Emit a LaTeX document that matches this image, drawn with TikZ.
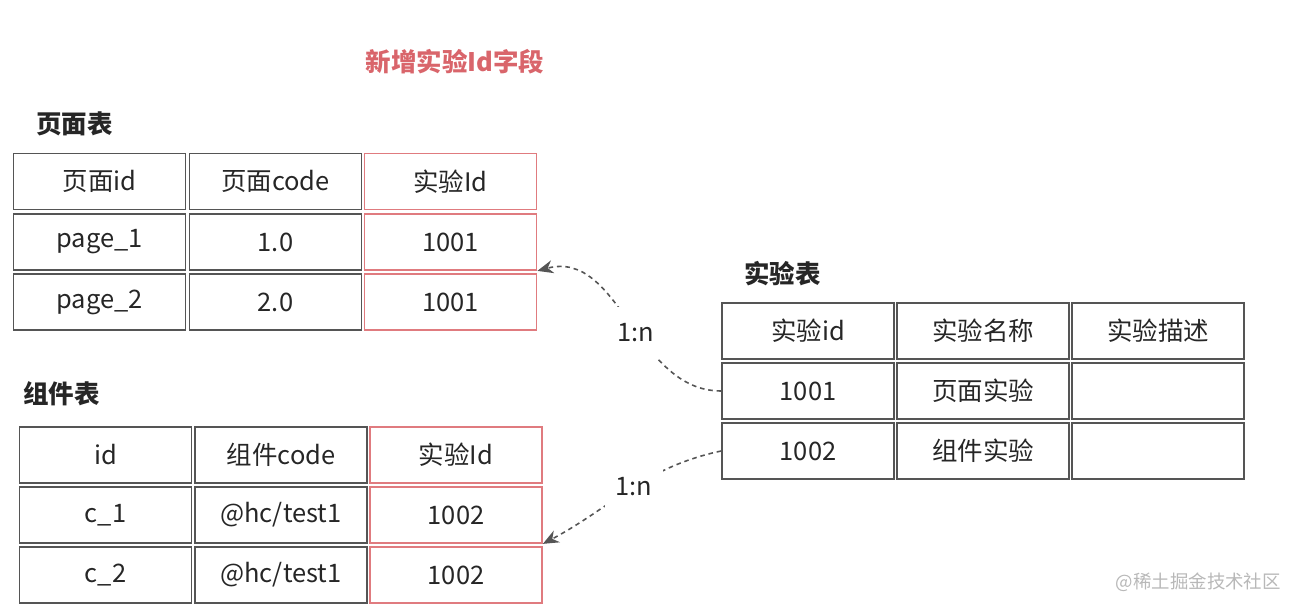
\documentclass[tikz,border=0pt]{standalone}
\usepackage{fontspec}
\setmainfont{Noto Sans CJK SC}
\usetikzlibrary{arrows.meta}
\definecolor{cellgray}{HTML}{555555}
\definecolor{idred}{HTML}{E07B7F}
\definecolor{titlered}{HTML}{D9656B}
\definecolor{marktext}{HTML}{B8B8B8}
\begin{document}
\begin{tikzpicture}[x=0.02cm,y=0.02cm,
  cell/.style={draw=cellgray,line width=1pt,minimum width=3.44cm,minimum height=1.12cm,inner sep=0pt,font=\fontsize{14.5}{16}\selectfont,text=black!85},
  newcell/.style={cell,draw=idred},
  tabletitle/.style={anchor=west,inner sep=0pt,font=\bfseries\fontsize{14.5}{17}\selectfont,text=black!85},
  conn/.style={draw=cellgray,line width=0.9pt,dash pattern=on 2.6pt off 2.2pt,-{Stealth[length=9pt,width=7.5pt]}},
  ratio/.style={fill=white,inner xsep=6pt,inner ysep=9pt,font=\fontsize{14.5}{16}\selectfont,text=black!85}]
\useasboundingbox (0,0) rectangle (1304,-612);
% heading
\node[font=\bfseries\fontsize{14.5}{17}\selectfont,text=titlered] (head) at (455,-62) {新增实验Id字段};
% page table
\node[tabletitle] (pagetitle) at (36,-124) {页面表};
\node[cell] (p11) at (99.5,-181.5) {页面id};
\node[cell] (p12) at (275.5,-181.5) {页面code};
\node[newcell] (p13) at (450.5,-181.5) {实验Id};
\node[cell] (p21) at (99.5,-242) {page\_1};
\node[cell] (p22) at (275.5,-242) {1.0};
\node[newcell] (p23) at (450.5,-242) {1001};
\node[cell] (p31) at (99.5,-302) {page\_2};
\node[cell] (p32) at (275.5,-302) {2.0};
\node[newcell] (p33) at (450.5,-302) {1001};
% component table
\node[tabletitle] (comptitle) at (23,-394) {组件表};
\node[cell] (c11) at (105.5,-455) {id};
\node[cell] (c12) at (281,-455) {组件code};
\node[newcell] (c13) at (456,-455) {实验Id};
\node[cell] (c21) at (105.5,-515) {c\_1};
\node[cell] (c22) at (281,-515) {@hc/test1};
\node[newcell] (c23) at (456,-515) {1002};
\node[cell] (c31) at (105.5,-575) {c\_2};
\node[cell] (c32) at (281,-575) {@hc/test1};
\node[newcell] (c33) at (456,-575) {1002};
% experiment table
\node[tabletitle] (exptitle) at (744,-274) {实验表};
\node[cell] (e11) at (808,-331) {实验id};
\node[cell] (e12) at (983,-331) {实验名称};
\node[cell] (e13) at (1158,-331) {实验描述};
\node[cell] (e21) at (808,-391) {1001};
\node[cell] (e22) at (983,-391) {页面实验};
\node[cell] (e23) at (1158,-391) {};
\node[cell] (e31) at (808,-451) {1002};
\node[cell] (e32) at (983,-451) {组件实验};
\node[cell] (e33) at (1158,-451) {};
% relations
\draw[conn] (e21.west) to[out=180,in=15] node[ratio,pos=0.45]{1:n} (p23.south east);
\draw[conn] (e31.west) to[out=192,in=28] node[ratio,pos=0.47]{1:n} (c23.south east);
\node[font=\fontsize{10.5}{12}\selectfont,text=marktext,anchor=east] (mark) at (1287,-582) {@稀土掘金技术社区};
\end{tikzpicture}
\end{document}
